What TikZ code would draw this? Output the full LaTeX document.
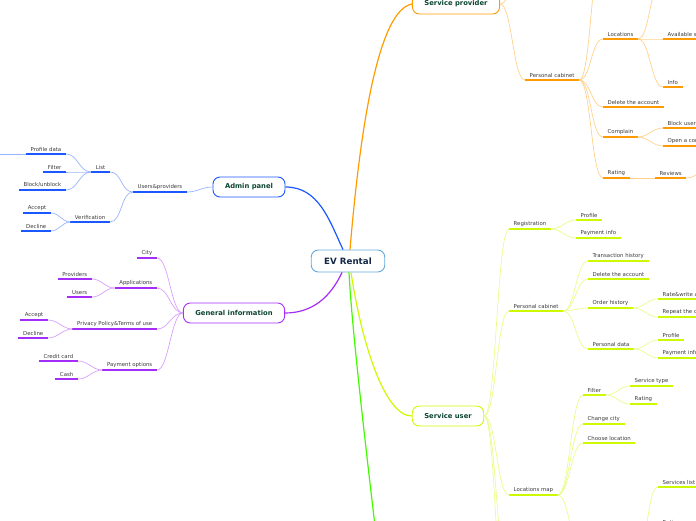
\documentclass[tikz,border=0pt]{standalone}
\usepackage{fontspec}
\setmainfont{DejaVu Sans}
\definecolor{rootblue}{RGB}{100,170,220}
\definecolor{roottext}{RGB}{20,40,70}
\definecolor{topictext}{RGB}{12,70,50}
\definecolor{leafgray}{RGB}{60,60,60}
\definecolor{adminblue}{RGB}{28,88,255}
\definecolor{infopurple}{RGB}{165,45,250}
\definecolor{provorange}{RGB}{255,155,0}
\definecolor{userlime}{RGB}{205,250,0}
\definecolor{extragreen}{RGB}{68,250,0}

\begin{document}
\begin{tikzpicture}[x=1pt, y=-1pt,
    root/.style={draw=rootblue, line width=0.9pt, rounded corners=7pt, fill=white,
                 minimum height=22pt, inner xsep=13pt, text=roottext,
                 font=\fontsize{8.7}{10}\selectfont\bfseries},
    topic/.style={draw=#1, line width=0.9pt, rounded corners=7pt, fill=white,
                  minimum height=20pt, inner xsep=12pt, text=topictext,
                  font=\fontsize{6.8}{8}\selectfont\bfseries},
    leaf/.style={text=leafgray, inner xsep=4.5pt, inner ysep=2.5pt,
                 font=\fontsize{5.4}{6}\selectfont,
                 append after command={(\tikzlastnode.south west)
                   edge[draw=#1, line width=1.5pt] (\tikzlastnode.south east)}},
    trunk/.style={draw=#1, line width=1.2pt},
    twig/.style={draw=#1!45, line width=0.7pt},
    toleft/.style={out=180, in=0, max distance=12pt},
    toright/.style={out=0, in=180, max distance=12pt}
]
    \useasboundingbox (0,0) rectangle (696,520);
    \clip (0,0) rectangle (696,520);

    \node[root] (ev) at (348,261) {EV Rental};
    \node[topic=provorange] (prov) at (456,4) {Service provider};
    \node[topic=adminblue] (admin) at (249,187) {Admin panel};
    \node[topic=infopurple] (info) at (234,313) {General information};
    \node[topic=userlime] (user) at (448,416) {Service user};
    \coordinate (more) at (379,560);

    \draw[trunk=adminblue] (admin.east) to[out=0, in=115] ([xshift=-5pt]ev.north);
    \draw[trunk=provorange] ([xshift=2pt]ev.north) .. controls (360,130) and (378,10) .. (prov.west);
    \draw[trunk=infopurple] (info.east) to[out=0, in=245] ([xshift=-6pt]ev.south);
    \draw[trunk=userlime] ([xshift=3pt]ev.south) .. controls (362,345) and (385,416) .. (user.west);
    \draw[trunk=extragreen] ([xshift=1pt]ev.south) .. controls (352,330) and (366,450) .. (more);

    % admin panel
    \node[leaf=adminblue, anchor=south east] (usrprov) at (187,192) {Users\&providers};
    \node[leaf=adminblue, anchor=south east] (list) at (110,172) {List};
    \node[leaf=adminblue, anchor=south east] (verif) at (110,222) {Verification};
    \node[leaf=adminblue, anchor=south east] (pdata) at (66,154) {Profile data};
    \node[leaf=adminblue, anchor=south east] (afilter) at (66,172) {Filter};
    \node[leaf=adminblue, anchor=south east] (block) at (66,190) {Block/unblock};
    \node[leaf=adminblue, anchor=south east] (aaccept) at (51,213) {Accept};
    \node[leaf=adminblue, anchor=south east] (adecline) at (51,231) {Decline};
    \coordinate (pdatamore) at (-20,154);

    \draw[twig=adminblue] (admin.west) to[toleft] (usrprov.south east);
    \foreach \kid in {list,verif}
        \draw[twig=adminblue] (usrprov.south west) to[toleft] (\kid.south east);
    \foreach \kid in {pdata,afilter,block}
        \draw[twig=adminblue] (list.south west) to[toleft] (\kid.south east);
    \foreach \kid in {aaccept,adecline}
        \draw[twig=adminblue] (verif.south west) to[toleft] (\kid.south east);
    \draw[twig=adminblue] (pdata.south west) -- (pdatamore);

    % general information
    \node[leaf=infopurple, anchor=south east] (city) at (157,258) {City};
    \node[leaf=infopurple, anchor=south east] (apps) at (157,288) {Applications};
    \node[leaf=infopurple, anchor=south east] (privacy) at (157,329) {Privacy Policy\&Terms of use};
    \node[leaf=infopurple, anchor=south east] (payopt) at (157,370) {Payment options};
    \node[leaf=infopurple, anchor=south east] (provs) at (92,279) {Providers};
    \node[leaf=infopurple, anchor=south east] (users) at (92,297) {Users};
    \node[leaf=infopurple, anchor=south east] (paccept) at (48,320) {Accept};
    \node[leaf=infopurple, anchor=south east] (pdecline) at (48,338) {Decline};
    \node[leaf=infopurple, anchor=south east] (card) at (78,361) {Credit card};
    \node[leaf=infopurple, anchor=south east] (cash) at (78,379) {Cash};

    \foreach \kid in {city,apps,privacy,payopt}
        \draw[twig=infopurple] (info.west) to[toleft] (\kid.south east);
    \foreach \kid in {provs,users}
        \draw[twig=infopurple] (apps.south west) to[toleft] (\kid.south east);
    \foreach \kid in {paccept,pdecline}
        \draw[twig=infopurple] (privacy.south west) to[toleft] (\kid.south east);
    \foreach \kid in {card,cash}
        \draw[twig=infopurple] (payopt.south west) to[toleft] (\kid.south east);

    % service provider
    \node[leaf=provorange, anchor=south west] (pcab) at (525,80) {Personal cabinet};
    \node[leaf=provorange, anchor=south west] (locs) at (603,39) {Locations};
    \node[leaf=provorange, anchor=south west] (pdel) at (603,107) {Delete the account};
    \node[leaf=provorange, anchor=south west] (compl) at (603,137) {Complain};
    \node[leaf=provorange, anchor=south west] (prate) at (603,178) {Rating};
    \node[leaf=provorange, anchor=south west] (reviews) at (655,178) {Reviews};
    \node[leaf=provorange, anchor=south west] (avail) at (663,39) {Available services};
    \node[leaf=provorange, anchor=south west] (pinfo) at (663,87) {Info};
    \node[leaf=provorange, anchor=south west] (blockusr) at (663,128) {Block user};
    \node[leaf=provorange, anchor=south west] (opencompl) at (663,146) {Open a complaint};
    \coordinate (provup) at (525,-40);
    \coordinate (pcabup) at (603,-50);
    \coordinate (locsup) at (663,-25);
    \coordinate (reviewsmore) at (715,165);

    \draw[twig=provorange] (prov.east) to[toright] (pcab.south west);
    \draw[twig=provorange] (prov.east) to[toright] (provup);
    \foreach \kid in {locs,pdel,compl,prate}
        \draw[twig=provorange] (pcab.south east) to[toright] (\kid.south west);
    \draw[twig=provorange] (pcab.south east) to[toright] (pcabup);
    \foreach \kid in {avail,pinfo}
        \draw[twig=provorange] (locs.south east) to[toright] (\kid.south west);
    \draw[twig=provorange] (locs.south east) to[toright] (locsup);
    \foreach \kid in {blockusr,opencompl}
        \draw[twig=provorange] (compl.south east) to[toright] (\kid.south west);
    \draw[twig=provorange] (prate.south east) -- (reviews.south west);
    \draw[twig=provorange] (reviews.south east) to[toright] (reviewsmore);

    % service user
    \node[leaf=userlime, anchor=south west] (reg) at (509,229) {Registration};
    \node[leaf=userlime, anchor=south west] (ucab) at (509,311) {Personal cabinet};
    \node[leaf=userlime, anchor=south west] (lmap) at (509,495) {Locations map};
    \node[leaf=userlime, anchor=south west] (uprof) at (576,220) {Profile};
    \node[leaf=userlime, anchor=south west] (upay) at (576,238) {Payment info};
    \node[leaf=userlime, anchor=south west] (trans) at (588,261) {Transaction history};
    \node[leaf=userlime, anchor=south west] (udel) at (588,279) {Delete the account};
    \node[leaf=userlime, anchor=south west] (orders) at (588,308) {Order history};
    \node[leaf=userlime, anchor=south west] (pers) at (588,349) {Personal data};
    \node[leaf=userlime, anchor=south west] (rate) at (658,299) {Rate\&write a review};
    \node[leaf=userlime, anchor=south west] (repeat) at (658,317) {Repeat the order};
    \node[leaf=userlime, anchor=south west] (pprof) at (658,340) {Profile};
    \node[leaf=userlime, anchor=south west] (ppay) at (658,358) {Payment info};
    \node[leaf=userlime, anchor=south west] (ufilter) at (583,395) {Filter};
    \node[leaf=userlime, anchor=south west] (ucity) at (583,424) {Change city};
    \node[leaf=userlime, anchor=south west] (choose) at (583,443) {Choose location};
    \node[leaf=userlime, anchor=south west] (stype) at (630,386) {Service type};
    \node[leaf=userlime, anchor=south west] (urate) at (630,404) {Rating};
    \node[leaf=userlime, anchor=south west] (slist) at (658,487) {Services list};
    \node[leaf=userlime, anchor=south west] (srate) at (658,528) {Rating};
    \coordinate (userdown) at (509,580);
    \coordinate (userdeep) at (509,650);
    \coordinate (lmapdown) at (583,556);
    \coordinate (slistup) at (636,560);

    \foreach \kid in {reg,ucab,lmap}
        \draw[twig=userlime] (user.east) to[toright] (\kid.south west);
    \foreach \kid in {userdown,userdeep}
        \draw[twig=userlime] (user.east) to[toright] (\kid);
    \foreach \kid in {uprof,upay}
        \draw[twig=userlime] (reg.south east) to[toright] (\kid.south west);
    \foreach \kid in {trans,udel,orders,pers}
        \draw[twig=userlime] (ucab.south east) to[toright] (\kid.south west);
    \foreach \kid in {rate,repeat}
        \draw[twig=userlime] (orders.south east) to[toright] (\kid.south west);
    \foreach \kid in {pprof,ppay}
        \draw[twig=userlime] (pers.south east) to[toright] (\kid.south west);
    \foreach \kid in {ufilter,ucity,choose}
        \draw[twig=userlime] (lmap.south east) to[toright] (\kid.south west);
    \draw[twig=userlime] (lmap.south east) to[toright] (lmapdown);
    \foreach \kid in {stype,urate}
        \draw[twig=userlime] (ufilter.south east) to[toright] (\kid.south west);
    \foreach \kid in {slist,srate}
        \draw[twig=userlime] (slistup) to[toright] (\kid.south west);
\end{tikzpicture}
\end{document}
